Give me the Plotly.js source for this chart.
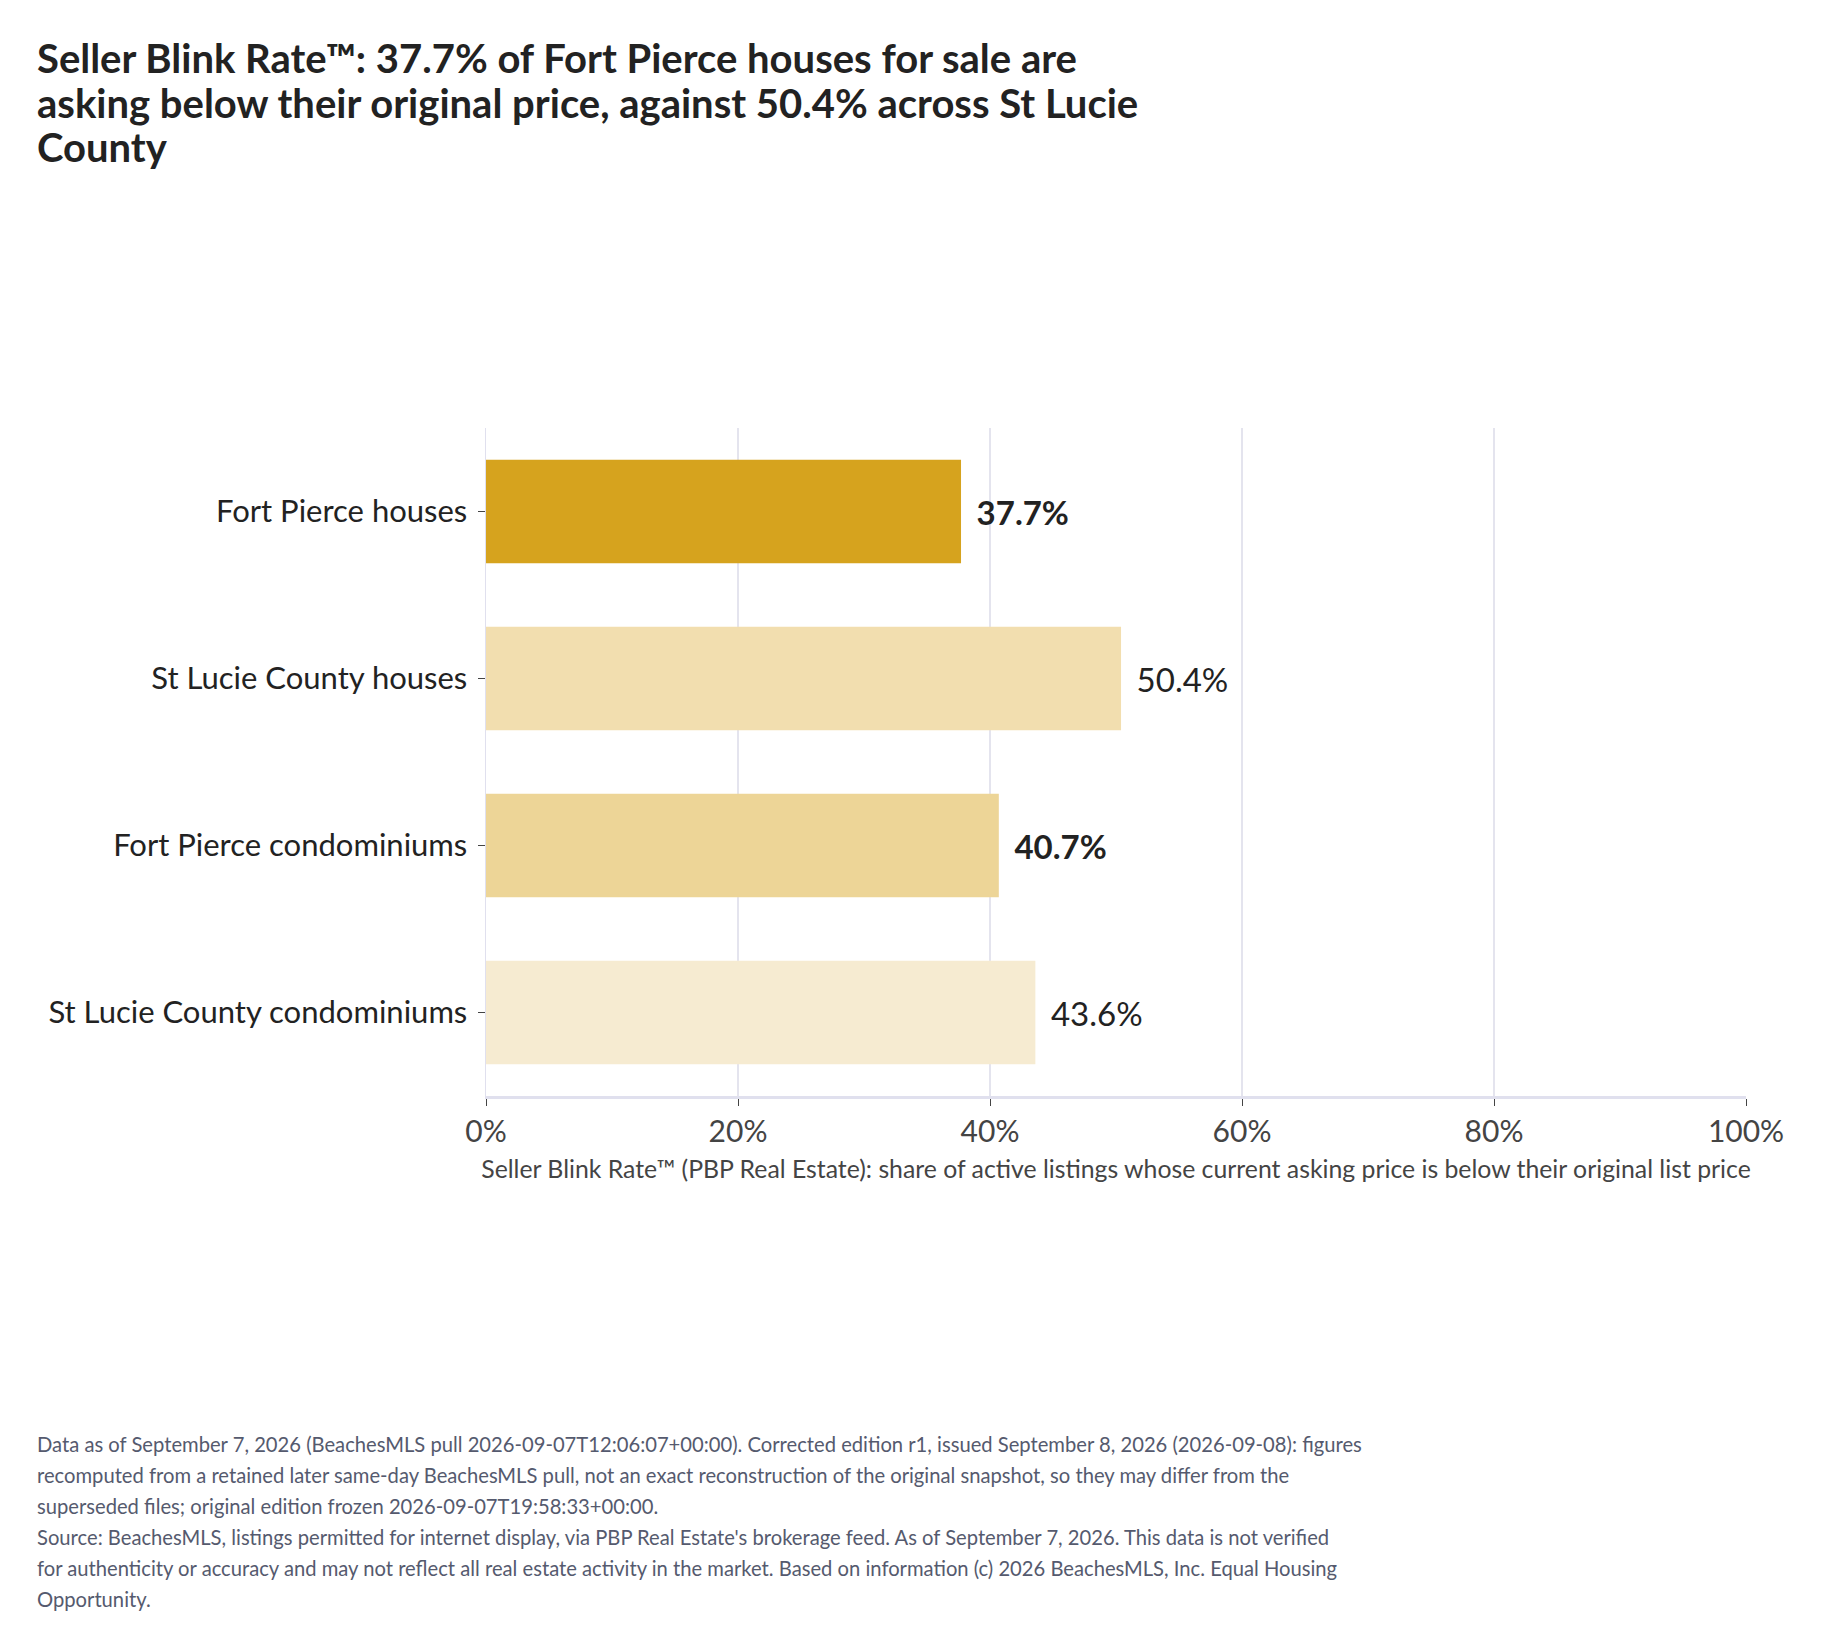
<!DOCTYPE html>
<html>
<head>
<meta charset="utf-8">
<script src="https://cdn.plot.ly/plotly-3.0.1.min.js"></script>
<style>
  body { margin: 0; background: #fff; }
  #chart { width: 1821px; height: 1644px; }
</style>
</head>
<body>
<div id="chart"></div>
<script>
var categories = ['Fort Pierce houses', 'St Lucie County houses', 'Fort Pierce condominiums', 'St Lucie County condominiums'];
var values = [37.7, 50.4, 40.7, 43.6];
var barColors = ['#d6a31e', '#f2deaf', '#edd597', '#f6ebd1'];
var highlighted = [true, false, true, false];
var tickVals = [0, 20, 40, 60, 80, 100];
var tickText = ['0%', '20%', '40%', '60%', '80%', '100%'];

var titleLines = [
  'Seller Blink Rate™: 37.7% of Fort Pierce houses for sale are',
  'asking below their original price, against 50.4% across St Lucie',
  'County'
];

var footerLines = [
  'Data as of September 7, 2026 (BeachesMLS pull 2026-09-07T12:06:07+00:00). Corrected edition r1, issued September 8, 2026 (2026-09-08): figures',
  'recomputed from a retained later same-day BeachesMLS pull, not an exact reconstruction of the original snapshot, so they may differ from the',
  'superseded files; original edition frozen 2026-09-07T19:58:33+00:00.',
  'Source: BeachesMLS, listings permitted for internet display, via PBP Real Estate\'s brokerage feed. As of September 7, 2026. This data is not verified',
  'for authenticity or accuracy and may not reflect all real estate activity in the market. Based on information (c) 2026 BeachesMLS, Inc. Equal Housing',
  'Opportunity.'
];

// plot area in pixels, used to place the footer lines in paper units
var M = { l: 486, r: 75, t: 428, b: 548 };
var W = 1821, H = 1644;
var plotW = W - M.l - M.r, plotH = H - M.t - M.b;

var labels = values.map(function (v, i) {
  var s = v.toFixed(1) + '%';
  return '\u00a0\u2009' + (highlighted[i] ? '<b>' + s + '</b>' : s);
});

var data = [{
  type: 'bar',
  orientation: 'h',
  y: categories,
  x: values,
  text: labels,
  textposition: 'outside',
  cliponaxis: false,
  textfont: { family: 'Lato', size: 33, color: '#222222' },
  marker: { color: barColors },
  width: 0.62,
  hoverinfo: 'none'
}];

var footer = footerLines.map(function (line, i) {
  return {
    xref: 'paper', yref: 'paper',
    x: (35 - M.l) / plotW,
    y: (H - M.b - (1444 + i * 31)) / plotH,
    xanchor: 'left', yanchor: 'middle',
    text: line, showarrow: false, align: 'left',
    font: { family: 'Lato', size: 20.2, color: '#555a6e' }
  };
});

// title lines are set larger than the base size so the line gap stays tight
var titleText = titleLines.map(function (t) {
  return '<span style="font-size:40px">' + t + '</span>';
}).join('<br>');

var layout = {
  width: W,
  height: H,
  paper_bgcolor: '#ffffff',
  plot_bgcolor: '#ffffff',
  font: { family: 'Lato', color: '#222222' },
  margin: M,
  title: {
    text: titleText,
    font: { family: 'Lato', size: 34.4, color: '#222222', weight: 'bold' },
    xref: 'container', yref: 'container',
    x: 37 / W, xanchor: 'left',
    y: 1 - 73 / H, yanchor: 'top'
  },
  xaxis: {
    range: [0, 100],
    tickvals: tickVals,
    ticktext: tickText,
    ticks: 'outside', ticklen: 7, tickcolor: '#444444',
    tickfont: { family: 'Lato', size: 30, color: '#444444' },
    showgrid: true, gridcolor: '#e4e4ee', gridwidth: 1.5,
    showline: true, linecolor: '#e0e0ee', linewidth: 3,
    zeroline: false,
    title: {
      text: 'Seller Blink Rate™ (PBP Real Estate): share of active listings whose current asking price is below their original list price',
      font: { family: 'Lato', size: 24.8, color: '#444444' },
      standoff: 14
    }
  },
  yaxis: {
    autorange: 'reversed',
    ticks: 'outside', ticklen: 7, tickcolor: '#444444',
    ticklabelstandoff: 4,
    tickfont: { family: 'Lato', size: 31, color: '#222222' },
    showline: true, linecolor: '#e0e0ee', linewidth: 1.5,
    showgrid: false, zeroline: false
  },
  annotations: footer,
  showlegend: false
};

Plotly.newPlot('chart', data, layout, { displayModeBar: false, staticPlot: true });
</script>
</body>
</html>
